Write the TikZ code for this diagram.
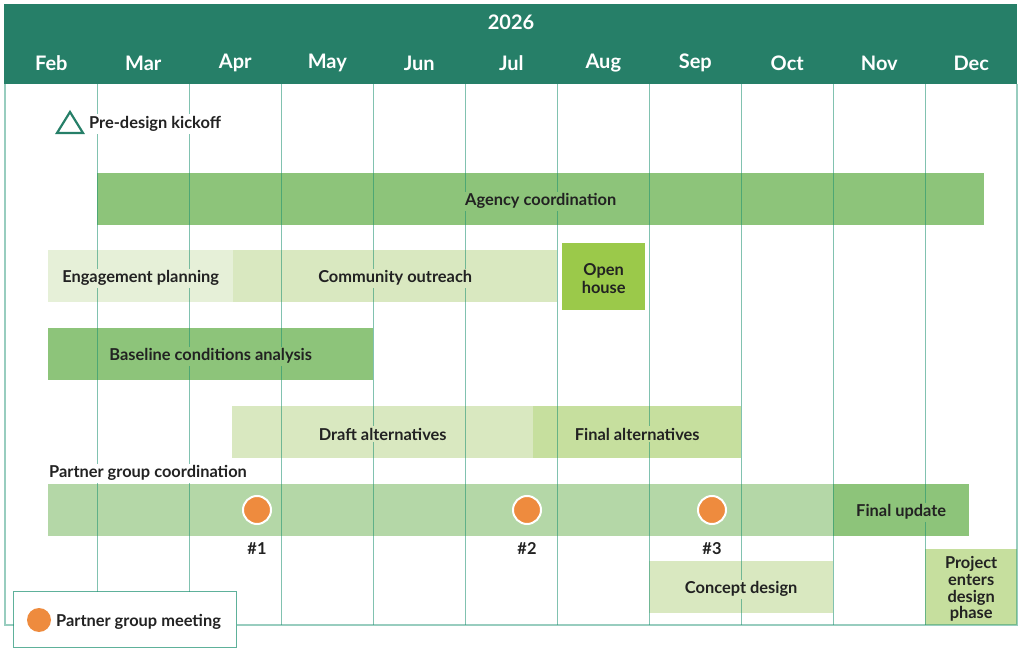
\documentclass[tikz,border=0pt]{standalone}
\usepackage{fontspec}
\setmainfont{Lato}
\definecolor{hdr}{HTML}{267F68}
\definecolor{gridc}{HTML}{1A9070}
\definecolor{gmid}{HTML}{8DC47A}
\definecolor{glight}{HTML}{E6F0D8}
\definecolor{gpale}{HTML}{D9E8C0}
\definecolor{gopen}{HTML}{9BC94A}
\definecolor{gfinal}{HTML}{C6DF9E}
\definecolor{gband}{HTML}{B4D7A7}
\definecolor{orng}{HTML}{EE8B3E}
\definecolor{txt}{HTML}{222222}
\begin{document}
\begin{tikzpicture}[x=1pt,y=-1pt,
  bar/.style={draw=none, inner sep=0pt, anchor=north west},
  lbl/.style={font=\bfseries\fontsize{16.4}{18}\selectfont, text=txt, inner sep=2pt, yshift=-2pt},
  month/.style={font=\bfseries\fontsize{20}{22}\selectfont, text=white, yshift=-1pt},
  gline/.style={draw=gridc, draw opacity=0.55, line width=1.3pt},
  meet/.style={circle, fill=orng, draw=white, line width=2pt, minimum size=28pt, inner sep=0pt},
]
\useasboundingbox (0,0) rectangle (1021,660);
% header
\node[bar, fill=hdr, minimum width=1013pt, minimum height=80pt] (header) at (4,4) {};
\node[month] (year) at (511,21) {2026};
\foreach \m [count=\i from 0] in {Feb,Mar,Apr,May,Jun,Jul,Aug,Sep,Oct,Nov,Dec}
  \node[month] (m\i) at (51.3+92*\i,62) {\m};
% bars
\node[bar, fill=gmid, minimum width=887pt, minimum height=52pt] (agency) at (97,173) {};
\node[bar, fill=glight, minimum width=185pt, minimum height=52pt] (engage) at (48,250) {};
\node[bar, fill=gpale, minimum width=324pt, minimum height=52pt] (outreach) at (233,250) {};
\node[bar, fill=gopen, minimum width=83pt, minimum height=67pt] (openh) at (562,243) {};
\node[bar, fill=gmid, minimum width=325pt, minimum height=52pt] (baseline) at (48,328) {};
\node[bar, fill=gpale, minimum width=301pt, minimum height=52pt] (draft) at (232,406) {};
\node[bar, fill=gfinal, minimum width=208pt, minimum height=52pt] (finalalt) at (533,406) {};
\node[bar, fill=gband, minimum width=785pt, minimum height=52pt] (partner) at (48,484) {};
\node[bar, fill=gmid, minimum width=136pt, minimum height=52pt] (finalup) at (833,484) {};
\node[bar, fill=gpale, minimum width=184pt, minimum height=52pt] (concept) at (649,561) {};
\node[bar, fill=gfinal, minimum width=92pt, minimum height=76pt] (project) at (925,549) {};
% grid and frame
\foreach \i in {0,...,9}
  \draw[gline] (97.3+92*\i,84) -- (97.3+92*\i,625);
\coordinate (fl) at (5,84);
\coordinate (fr) at (1017,84);
\coordinate (bl) at (5,625);
\coordinate (br) at (1017,625);
\draw[gline, draw opacity=0.45] (fl) -- (bl) -- (br) -- (fr);
% kickoff
\node[lbl, fill=white, anchor=west] (kick) at (87,122) {Pre-design kickoff};
\draw[draw=hdr, line width=2.2pt, line join=miter] (57,133) -- (83,133) -- (70,112) -- cycle;
% labels
\node[lbl, fill=gmid] at (agency.center) {Agency coordination};
\node[lbl, fill=glight] at (engage.center) {Engagement planning};
\node[lbl, fill=gpale] at (outreach.center) {Community outreach};
\node[lbl, fill=gopen, align=center, font=\bfseries\fontsize{16.4}{18}\selectfont] at (openh.center) {Open\\house};
\node[lbl, fill=gmid] at (baseline.center) {Baseline conditions analysis};
\node[lbl, fill=gpale] at (draft.center) {Draft alternatives};
\node[lbl, fill=gfinal] at (finalalt.center) {Final alternatives};
\node[lbl, fill=white, anchor=base west, yshift=2pt] (ptitle) at (47,478) {Partner group coordination};
\node[lbl, fill=gmid] at (finalup.center) {Final update};
\node[lbl, fill=gpale] at (concept.center) {Concept design};
\node[lbl, fill=gfinal, align=center, font=\bfseries\fontsize{16.4}{16.7}\selectfont] at (project.center) {Project\\enters\\design\\phase};
% meetings
\node[meet] (p1) at (257,510) {};
\node[meet] (p2) at (527,510) {};
\node[meet] (p3) at (712,510) {};
\node[lbl] at (257,547) {\#1};
\node[lbl] at (527,547) {\#2};
\node[lbl] at (712,547) {\#3};
% legend
\node[bar, fill=white, draw=gridc, draw opacity=0.7, line width=1pt, minimum width=223pt, minimum height=56pt] (legend) at (13,591) {};
\node[circle, fill=orng, minimum size=24pt, inner sep=0pt] (lgdot) at (39,620) {};
\node[lbl, anchor=west] (lgtext) at (54,620) {Partner group meeting};
\end{tikzpicture}
\end{document}
